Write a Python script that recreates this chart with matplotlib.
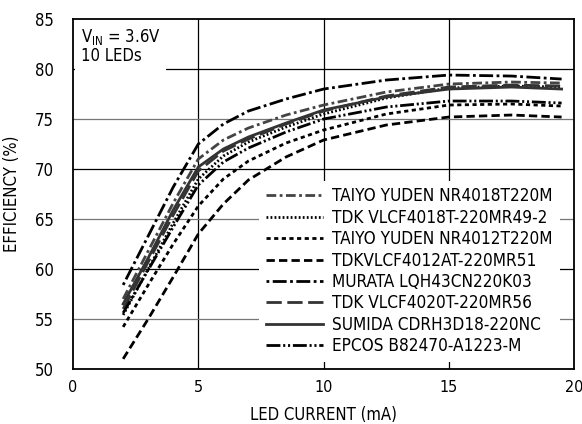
import matplotlib
matplotlib.use("Agg")
import matplotlib.pyplot as plt

current = [2, 3, 4, 5, 6, 7, 8.5, 10, 12.5, 15, 17.5, 19.5]

# efficiency (%) per inductor
taiyo_4018 = [57.0, 61.8, 66.6, 71.0, 72.9, 74.1, 75.4, 76.4, 77.7, 78.5, 78.7, 78.6]
tdk_4018 = [55.4, 60.0, 64.6, 69.0, 71.3, 72.7, 74.2, 75.5, 77.1, 78.1, 78.3, 78.2]
taiyo_4012 = [54.2, 58.4, 62.5, 66.3, 69.0, 70.8, 72.6, 73.9, 75.5, 76.4, 76.5, 76.3]
tdk_4012at = [51.0, 55.0, 59.2, 63.5, 66.5, 68.9, 71.2, 72.9, 74.4, 75.2, 75.4, 75.2]
murata = [58.4, 63.3, 68.2, 72.5, 74.5, 75.8, 77.0, 78.0, 78.9, 79.4, 79.3, 79.0]
tdk_4020 = [56.0, 60.7, 65.4, 69.8, 71.8, 73.0, 74.5, 75.8, 77.3, 78.2, 78.4, 78.3]
sumida = [56.5, 61.1, 65.9, 70.2, 72.0, 73.2, 74.6, 75.9, 77.2, 78.0, 78.2, 78.0]
epcos = [55.6, 59.9, 64.2, 68.4, 70.7, 72.1, 73.7, 75.0, 76.2, 76.8, 76.8, 76.6]

labels = [
    "TAIYO YUDEN NR4018T220M",
    "TDK VLCF4018T-220MR49-2",
    "TAIYO YUDEN NR4012T220M",
    "TDKVLCF4012AT-220MR51",
    "MURATA LQH43CN220K03",
    "TDK VLCF4020T-220MR56",
    "SUMIDA CDRH3D18-220NC",
    "EPCOS B82470-A1223-M",
]

plt.rcParams["font.family"] = ["DejaVu Sans"]
plt.rcParams["font.stretch"] = "condensed"
plt.rcParams["mathtext.fontset"] = "custom"
plt.rcParams["mathtext.rm"] = "DejaVu Sans:stretch=condensed"
plt.rcParams["lines.scale_dashes"] = False

fig = plt.figure(figsize=(5.82, 4.24), dpi=100)
ax = fig.add_axes([0.1255, 0.130, 0.861, 0.825])

series = [taiyo_4018, tdk_4018, taiyo_4012, tdk_4012at, murata, tdk_4020, sumida, epcos]
styles = [
    ("#444444", (0, (7, 2.5, 2, 2.5))),
    ("black", (0, (1.3, 1.6))),
    ("black", (0, (3, 2.5))),
    ("black", (0, (6, 3))),
    ("black", (0, (2, 2.5, 10, 2.5))),
    ("#333333", (0, (11, 4))),
    ("#333333", "-"),
    ("black", (0, (10, 2, 1.5, 2, 1.5, 2))),
]

for vals, lab, (col, ls) in zip(series, labels, styles):
    ax.plot(current, vals, color=col, linestyle=ls, linewidth=2.0, label=lab)

ax.set_xlim(0, 20)
ax.set_ylim(50, 85)
ax.set_xticks([0, 5, 10, 15, 20])
ax.set_yticks([50, 55, 60, 65, 70, 75, 80, 85])

for v in [5, 10, 15]:
    ax.axvline(v, color="black", linewidth=0.9, zorder=0)
for h in [55, 60, 65, 70, 75, 80]:
    c = "#777777" if h in (55, 65, 75) else "black"
    ax.axhline(h, color=c, linewidth=0.9, zorder=0)

for s in ax.spines.values():
    s.set_linewidth(1.3)

ax.tick_params(length=0, labelsize=12, pad=8)
ax.tick_params(axis="y", pad=14)
ax.tick_params(axis="x", labelsize=11.5)
ax.set_xlabel("LED CURRENT (mA)", fontsize=12, labelpad=8)
ax.set_ylabel("EFFICIENCY (%)", fontsize=12, labelpad=10)

ax.text(0.3, 84.2, "V$_{\\mathrm{IN}}$ = 3.6V\n10 LEDs", fontsize=12,
        va="top", ha="left", linespacing=1.0,
        bbox=dict(facecolor="white", edgecolor="none", pad=4))

leg = ax.legend(loc="lower right", bbox_to_anchor=(0.988, -0.005), fontsize=12.3,
                handlelength=3.35, handletextpad=0.55, labelspacing=0.2,
                borderpad=0.4, frameon=True, fancybox=False)
leg.get_frame().set_facecolor("white")
leg.get_frame().set_edgecolor("none")
leg.get_frame().set_alpha(1)

fig.savefig("out.png", dpi=100)
